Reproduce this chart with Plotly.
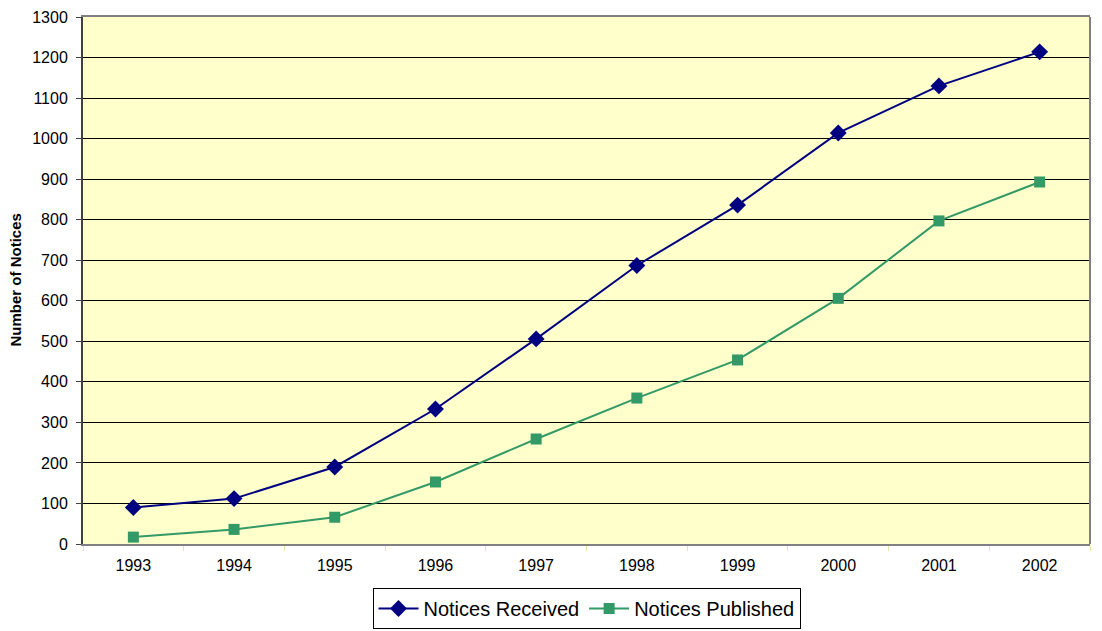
import plotly.graph_objects as go

years = ["1993", "1994", "1995", "1996", "1997", "1998", "1999", "2000", "2001", "2002"]
notices_received = [90, 112, 190, 333, 506, 687, 836, 1014, 1130, 1214]
notices_published = [17, 36, 66, 153, 259, 360, 454, 606, 797, 893]
y_ticks = list(range(0, 1301, 100))

FONT = "Arial, Liberation Sans, sans-serif"

fig = go.Figure()
fig.add_trace(go.Scatter(
    x=years, y=notices_received, mode="lines+markers", name="Notices Received",
    line=dict(color="#000080", width=2),
    marker=dict(symbol="diamond", size=13, color="#000080"),
))
fig.add_trace(go.Scatter(
    x=years, y=notices_published, mode="lines+markers", name="Notices Published",
    line=dict(color="#339966", width=2),
    marker=dict(symbol="square", size=11, color="#339966"),
))

fig.update_layout(
    width=1102, height=631,
    margin=dict(l=83, r=12, t=17, b=87, autoexpand=False),
    paper_bgcolor="white",
    plot_bgcolor="#FFFFCC",
    font=dict(family=FONT, size=16, color="black"),
    showlegend=True,
    legend=dict(
        orientation="h", x=0.5, xanchor="center", xref="paper",
        y=2 / 631, yanchor="bottom", yref="container",
        bordercolor="black", borderwidth=1, font=dict(size=20, family=FONT),
        itemwidth=40, tracegroupgap=0,
    ),
    xaxis=dict(
        type="category", range=[-0.5, 9.5], automargin=False,
        showline=True, linecolor="#808080", linewidth=2, mirror=True,
        ticks="outside", tickson="boundaries", ticklen=5, tickcolor="#e6e6a8",
        ticklabelstandoff=6,
        showgrid=False, tickfont=dict(size=16),
    ),
    yaxis=dict(
        range=[0, 1300], tickvals=y_ticks, automargin=False,
        showline=True, linecolor="#404040", linewidth=2,
        ticks="outside", ticklen=5, tickcolor="#404040",
        ticklabelstandoff=5,
        showgrid=True, gridcolor="black", gridwidth=1,
        zeroline=False, tickfont=dict(size=16),
    ),
    annotations=[dict(
        text="<b>Number of Notices</b>", xref="paper", yref="paper",
        x=(15 - 83) / 1007, y=0.5, xanchor="center", yanchor="middle",
        textangle=-90, showarrow=False, font=dict(size=15, family=FONT),
    )],
)
fig.add_shape(type="line", xref="paper", yref="paper", x0=1, x1=1, y0=0, y1=1,
              line=dict(color="#808080", width=2))

fig.write_html(
    "out.html",
    config={"displayModeBar": False},
    post_script="document.body.style.margin='0px';document.body.style.overflow='hidden';",
)
